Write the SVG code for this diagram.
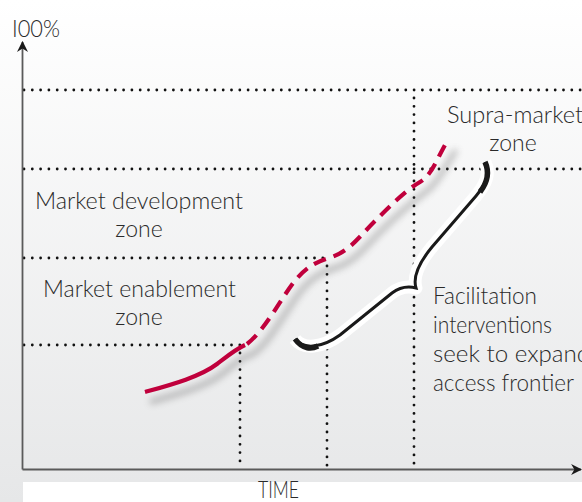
<svg xmlns="http://www.w3.org/2000/svg" width="582" height="502" viewBox="0 0 582 502">
<defs>
<linearGradient id="bg" x1="0" y1="0" x2="0" y2="1">
<stop offset="0" stop-color="#ffffff"/>
<stop offset="1" stop-color="#e6e7e8"/>
</linearGradient>
<filter id="sh" x="-20%" y="-20%" width="140%" height="140%">
<feGaussianBlur stdDeviation="3.5"/>
</filter>
<marker id="ah" viewBox="0 0 10 10" refX="9" refY="5" markerWidth="11" markerHeight="11" markerUnits="userSpaceOnUse" orient="auto">
<path d="M0,0 L10,5 L0,10 L3,5 Z" fill="#1a1a1a"/>
</marker>
<style>
.t{font-family:Lato,"Liberation Sans",sans-serif;font-weight:300;font-size:23px;fill:#2a2a2a;}
.dot{stroke:#111;stroke-width:2.8;stroke-dasharray:0 8.3;stroke-linecap:round;fill:none;}
.ax{stroke:#5a5a5a;stroke-width:1.8;fill:none;}
.red{stroke:#c0003c;stroke-width:4.2;fill:none;stroke-linecap:butt;}
</style>
</defs>
<rect x="0" y="0" width="582" height="502" fill="url(#bg)"/>
<rect x="23" y="482" width="559" height="20" fill="#ffffff"/>
<g id="grid">
<path class="dot" d="M24,90 H582"/>
<path class="dot" d="M24,169 H582"/>
<path class="dot" d="M24,258 H330"/>
<path class="dot" d="M24,345 H246"/>
<path class="dot" d="M240,353 V469"/>
<path class="dot" d="M327,266 V469"/>
<path class="dot" d="M414,98 V469"/>
</g>
<g id="axes">
<path class="ax" d="M22.5,469.5 V42" marker-end="url(#ah)"/>
<path class="ax" d="M22.5,469.5 H581" marker-end="url(#ah)"/>
</g>
<g id="shadows" filter="url(#sh)" opacity="0.4">
<path d="M150,402 C175,395 205,387 222,374 C235,364 240,358 253,354 C270,342 285,312 300,292 C312,277 322,272 335,268 C355,262 365,247 380,232 C395,217 412,202 428,190 C438,182 445,167 456,150" stroke="#555" stroke-width="5" fill="none"/>
</g>
<g id="curve">
<path class="red" d="M145,392 C170,385 200,377 217,364 C230,354 236,349 245,345"/>
<path class="red" stroke-dasharray="13,8" d="M247,344 C265,330 280,300 294,282 C306,267 316,262 329,258 C349,252 359,237 374,222 C389,207 406,190 420,182 C432,175 436,160 449,138"/>
</g>
<g id="brace">
<path d="M295,339 C303,350 322,348 340,335 L392,293 C400,287 408,286 416,288 C413,278 418,264 432,247 L476,196 C487,183 490,173 485,162" stroke="#ffffff" stroke-width="13" fill="none" stroke-linejoin="round"/>
<path d="M295,339 C303,350 322,348 340,335 L392,293 C400,287 408,286 416,288 C413,278 418,264 432,247 L476,196 C487,183 490,173 485,162" stroke="#1a1a1a" stroke-width="3" fill="none"/>
<path d="M295,339 C303,350 312,349 318,346" stroke="#1a1a1a" stroke-width="5.5" fill="none"/>
<path d="M480,192 C487,183 490,173 485,162" stroke="#1a1a1a" stroke-width="5.5" fill="none"/>
</g>
<g id="labels">
<text class="t" x="12" y="37" font-size="24" textLength="48" lengthAdjust="spacingAndGlyphs">I00%</text>
<text class="t" x="35" y="209" textLength="208" lengthAdjust="spacingAndGlyphs">Market development</text>
<text class="t" x="139" y="237" text-anchor="middle">zone</text>
<text class="t" x="43" y="297" textLength="193" lengthAdjust="spacingAndGlyphs">Market enablement</text>
<text class="t" x="139" y="325" text-anchor="middle">zone</text>
<text class="t" x="447" y="123" textLength="136" lengthAdjust="spacingAndGlyphs">Supra-market</text>
<text class="t" x="513" y="151" text-anchor="middle">zone</text>
<text class="t" x="433" y="304" textLength="104" lengthAdjust="spacingAndGlyphs">Facilitation</text>
<text class="t" x="433" y="333" textLength="119" lengthAdjust="spacingAndGlyphs">interventions</text>
<text class="t" x="433" y="362" textLength="157" lengthAdjust="spacingAndGlyphs">seek to expand</text>
<text class="t" x="433" y="391" textLength="141" lengthAdjust="spacingAndGlyphs">access frontier</text>
<text class="t" x="258" y="498" font-size="21" textLength="41" lengthAdjust="spacingAndGlyphs">TIME</text>
</g>
</svg>
